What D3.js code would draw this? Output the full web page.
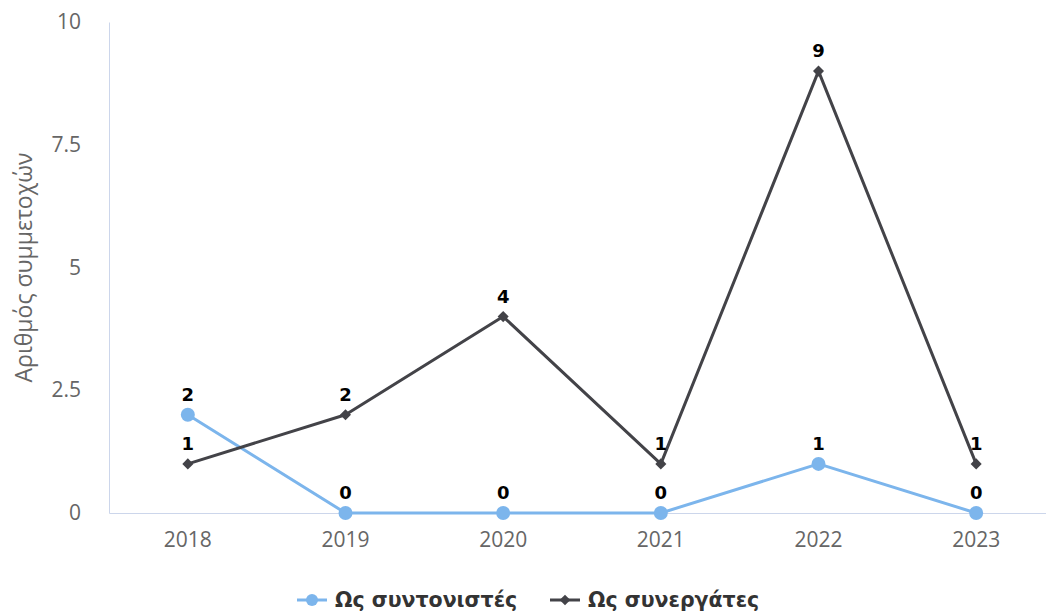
<!DOCTYPE html>
<html lang="el">
<head>
<meta charset="utf-8">
<title>Αριθμός συμμετοχών</title>
<script src="https://d3js.org/d3.v7.min.js"></script>
<style>
  html, body { margin: 0; padding: 0; background: #fff; }
  svg { display: block; font-family: "DejaVu Sans", sans-serif; }
  .tick text { fill: #666; font-size: 21px; font-family: "Open Sans", sans-serif; }
  .ytitle { fill: #666; font-size: 23px; font-family: "Open Sans", sans-serif; }
  .lbl { font-size: 18px; font-weight: bold; fill: #000; }
  .leg { font-size: 20.5px; font-weight: bold; fill: #333; }
</style>
</head>
<body>
<div id="chart"></div>
<script>
var years = ["2018", "2019", "2020", "2021", "2022", "2023"];
var coordinators = [2, 0, 0, 0, 1, 0];
var partners = [1, 2, 4, 1, 9, 1];
var yTicks = [0, 2.5, 5, 7.5, 10];
var seriesNames = ["Ως συντονιστές", "Ως συνεργάτες"];
var seriesColors = ["#7cb5ec", "#434348"];

var width = 1046, height = 614;
var plotLeft = 109, plotRight = 1055, plotTop = 22, plotBottom = 513;

var svg = d3.select("#chart").append("svg")
    .attr("width", width)
    .attr("height", height);

var x = d3.scaleBand().domain(years).range([plotLeft, plotRight]);
var y = d3.scaleLinear().domain([0, 10]).range([plotBottom, plotTop]);

// axes
var xAxis = svg.append("g")
    .attr("transform", "translate(0," + plotBottom + ")")
    .call(d3.axisBottom(x).tickSize(0).tickPadding(19));
xAxis.select(".domain").attr("stroke", "#ccd6eb");

var yAxis = svg.append("g")
    .attr("transform", "translate(" + plotLeft + ",0)")
    .call(d3.axisLeft(y).tickValues(yTicks).tickSize(0).tickPadding(28)
      .tickFormat(function(d) { return d; }));
yAxis.select(".domain").attr("stroke", "#ccd6eb");

svg.append("text")
    .attr("class", "ytitle")
    .attr("transform", "translate(32," + (plotTop + plotBottom) / 2 + ") rotate(-90)")
    .attr("text-anchor", "middle")
    .text("Αριθμός συμμετοχών");

var cx = function(i) { return x(years[i]) + x.bandwidth() / 2; };

var line = d3.line()
    .x(function(d, i) { return cx(i); })
    .y(function(d) { return y(d); });

var diamond = d3.symbol().type(d3.symbolDiamond2).size(78);

[coordinators, partners].forEach(function(vals, s) {
  svg.append("path")
      .datum(vals)
      .attr("d", line)
      .attr("fill", "none")
      .attr("stroke", seriesColors[s])
      .attr("stroke-width", 3)
      .attr("stroke-linejoin", "round");

  var g = svg.append("g");
  if (s === 0) {
    g.selectAll("circle").data(vals).enter().append("circle")
        .attr("cx", function(d, i) { return cx(i); })
        .attr("cy", function(d) { return y(d); })
        .attr("r", 7)
        .attr("fill", seriesColors[s]);
  } else {
    g.selectAll("path").data(vals).enter().append("path")
        .attr("d", diamond)
        .attr("transform", function(d, i) { return "translate(" + cx(i) + "," + y(d) + ")"; })
        .attr("fill", seriesColors[s]);
  }
});

// data labels
[coordinators, partners].forEach(function(vals) {
  svg.append("g").selectAll("text").data(vals).enter().append("text")
      .attr("class", "lbl")
      .attr("x", function(d, i) { return cx(i); })
      .attr("y", function(d) { return y(d) - 14; })
      .attr("text-anchor", "middle")
      .text(function(d) { return d; });
});

// legend
var legX = [297, 550];
seriesNames.forEach(function(name, s) {
  var lg = svg.append("g").attr("transform", "translate(" + legX[s] + ",600)");
  lg.append("line")
      .attr("x1", 0).attr("x2", 30)
      .attr("stroke", seriesColors[s]).attr("stroke-width", 3);
  if (s === 0) {
    lg.append("circle").attr("cx", 15).attr("r", 6).attr("fill", seriesColors[s]);
  } else {
    lg.append("path").attr("d", d3.symbol().type(d3.symbolDiamond2).size(72))
        .attr("transform", "translate(15,0)").attr("fill", seriesColors[s]);
  }
  lg.append("text")
      .attr("class", "leg")
      .attr("x", 38)
      .attr("dy", "0.35em")
      .text(name);
});
</script>
</body>
</html>
